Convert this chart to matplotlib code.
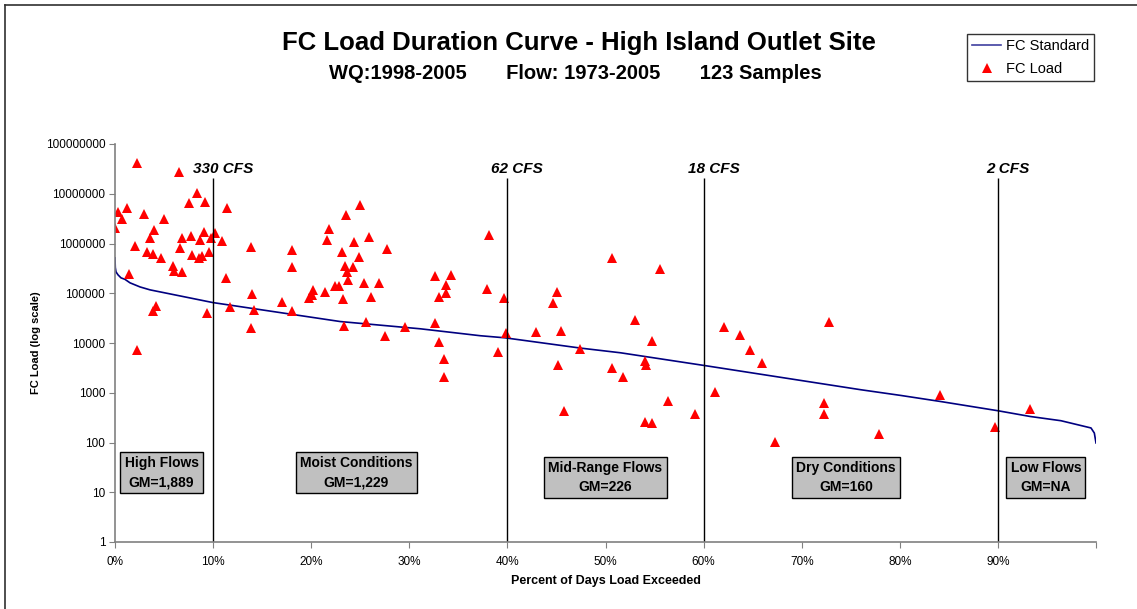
import numpy as np
import matplotlib
matplotlib.use("Agg")
import matplotlib.pyplot as plt
from matplotlib.lines import Line2D

plt.rcParams['font.family'] = ['Liberation Sans', 'DejaVu Sans']

# ---- data ----
# FC load samples: percent of days exceeded, load
load_pct = [0.0, 0.34, 0.74, 1.22, 1.46, 2.04, 2.28, 2.21, 2.96, 3.23,
            3.57, 3.85, 3.95, 3.91, 4.15, 4.72, 5.03, 5.95, 6.05, 6.56,
            6.66, 6.81, 6.81, 7.52, 7.76, 7.83, 8.40, 8.60, 8.70, 8.91,
            9.11, 9.21, 9.39, 9.56, 9.77, 10.20, 10.92, 11.36, 11.43, 11.73,
            13.91, 13.95, 13.88, 14.15, 17.04, 18.03, 18.06, 18.03, 19.80, 20.07,
            20.23, 21.40, 21.66, 21.84, 22.45, 22.86, 23.13, 23.34, 23.23, 23.40,
            23.57, 23.67, 23.74, 24.26, 24.36, 24.83, 24.97, 25.38, 25.61, 25.89,
            26.05, 26.94, 27.55, 27.72, 29.56, 32.58, 33.03, 33.74, 33.74, 34.21,
            32.58, 33.03, 33.54, 33.54, 38.16, 37.93, 39.05, 39.62, 39.90, 42.96,
            44.69, 45.07, 45.44, 45.17, 45.74, 47.38, 50.68, 50.68, 51.77, 52.99,
            54.05, 54.15, 54.77, 55.54, 56.33, 54.05, 54.77, 59.11, 61.15, 62.04,
            63.67, 64.77, 65.92, 72.79, 72.32, 72.32, 67.24, 77.83, 84.11, 89.72,
            93.27]
load_val = [2030000, 4370000, 3080000, 5120000, 245000, 895000, 42100000, 7070, 3930000, 669000,
            1280000, 618000, 1880000, 44300, 55800, 521000, 3080000, 360000, 286000, 27400000,
            816000, 1280000, 265000, 6440000, 1420000, 590000, 10500000, 507000, 1200000, 563000,
            1730000, 6750000, 39900, 688000, 1280000, 1660000, 1110000, 201000, 5120000, 52600,
            843000, 97300, 19900, 46400, 68100, 744000, 334000, 44300, 79800, 92900,
            117000, 105000, 1180000, 1960000, 143000, 141000, 669000, 22100, 77200, 355000,
            3750000, 273000, 186000, 334000, 1090000, 531000, 5960000, 160000, 27000, 1380000,
            83500, 160000, 14100, 769000, 20900, 224000, 84700, 147000, 103000, 234000,
            25800, 10700, 4880, 2120, 1470000, 121000, 6560, 80900, 15800, 16800,
            65000, 107000, 17600, 3600, 435, 7550, 514000, 3130, 2030, 29600,
            4250, 3600, 11200, 305000, 681, 258, 246, 367, 1050, 20900,
            14600, 7300, 3950, 26300, 621, 379, 102, 148, 883, 201,
            477]

# FC standard (allowable load) duration curve
std_pct = [0.0, 0.03, 0.10, 0.31, 0.61, 1.02, 1.53, 2.55, 3.57, 9.97,
           22.96, 31.12, 37.24, 39.77, 47.45, 51.53, 60.07, 76.02, 80.10, 84.11,
           90.0, 93.27, 96.43, 99.49, 99.83, 100.0]
std_val = [514000, 330000, 269000, 234000, 204000, 190000, 162000, 134000, 117000, 65000,
           27000, 19300, 14000, 12700, 7900, 6360, 3530, 1150, 883, 669,
           435, 334, 274, 196, 155, 98]

# flow zone boundaries
zone_pct = [10, 40, 60, 90]
zone_flow = ['330 CFS', '62 CFS', '18 CFS', '2 CFS']

# flow zone boxes
zone_names = ['High Flows\nGM=1,889', 'Moist Conditions\nGM=1,229',
              'Mid-Range Flows\nGM=226', 'Dry Conditions\nGM=160', 'Low Flows\nGM=NA']
box_x = [4.75, 24.6, 50.0, 74.5, 94.9]
box_y = [24.8, 24.8, 19.6, 19.6, 19.6]

y_ticks = [10 ** k for k in range(9)]
x_ticks = list(range(0, 101, 10))
x_labels = [f'{t}%' for t in x_ticks[:-1]] + ['']

# ---- figure ----
fig = plt.figure(figsize=(11.37, 6.09), dpi=100)
ax = fig.add_axes([115 / 1137, 1 - 542 / 609, 981 / 1137, 398 / 609])

std_line, = ax.plot(std_pct, std_val, color='#000080', lw=1.2, label='FC Standard')
load_pts, = ax.plot(load_pct, load_val, linestyle='none', marker='^', color='#ff0000',
                    markersize=6.5, markeredgewidth=0, label='FC Load')

ax.set_yscale('log')
ax.set_xlim(0, 100)
ax.set_ylim(1, 1e8)
ax.set_yticks(y_ticks)
ax.set_yticklabels([str(t) for t in y_ticks])
ax.minorticks_off()
ax.set_xticks(x_ticks)
ax.set_xticklabels(x_labels)
ax.tick_params(axis='both', labelsize=8.5, length=4, color='#808080', direction='out')
ax.tick_params(axis='x', pad=6)
ax.tick_params(axis='y', pad=3)

for side in ['top', 'right']:
    ax.spines[side].set_visible(False)
for side in ['left', 'bottom']:
    ax.spines[side].set_color('#808080')
    ax.spines[side].set_linewidth(1.2)

ax.set_xlabel('Percent of Days Load Exceeded', fontsize=9, fontweight='bold', labelpad=5)
ax.set_ylabel('FC Load (log scale)', fontsize=8, fontweight='bold', labelpad=3)

# zone boundaries and flow labels
ax.vlines(zone_pct, 1, 2.1e7, color='black', lw=1)
for xp, lab in zip(zone_pct, zone_flow):
    ax.text(xp + 1.0, 3.15e7, lab, ha='center', va='center', fontsize=11,
            fontweight='bold', fontstyle='italic')

for xp, yp, lab in zip(box_x, box_y, zone_names):
    ax.text(xp, yp, lab, ha='center', va='center', fontsize=10, fontweight='bold',
            linespacing=1.45,
            bbox=dict(boxstyle='square,pad=0.3', facecolor='#c0c0c0', edgecolor='black', lw=1))

# titles
fig.text(0.509, 0.930, 'FC Load Duration Curve - High Island Outlet Site',
         ha='center', va='center', fontsize=18.5, fontweight='bold')
fig.text(0.506, 0.880, 'WQ:1998-2005       Flow: 1973-2005       123 Samples',
         ha='center', va='center', fontsize=14.5, fontweight='bold')

leg = fig.legend(handles=[Line2D([], [], color='#4040a0', lw=1.2),
                          Line2D([], [], linestyle='none', marker='^', color='#ff0000',
                                 markersize=6.5, markeredgewidth=0)],
                 labels=['FC Standard', 'FC Load'],
                 loc='upper left', bbox_to_anchor=(967 / 1137, 1 - 34 / 609),
                 fontsize=10.5, frameon=True, fancybox=False, handlelength=2.0,
                 borderpad=0.35, labelspacing=0.6, handletextpad=0.3, borderaxespad=0)
leg.get_frame().set_edgecolor('black')
leg.get_frame().set_linewidth(1)

# outer chart frame (only left and top edges fall inside the picture)
fig.add_artist(Line2D([5 / 1137, 5 / 1137], [0, 1 - 5 / 609], color='#303030', lw=1.2))
fig.add_artist(Line2D([5 / 1137, 1], [1 - 5 / 609, 1 - 5 / 609], color='#303030', lw=1.2))

fig.savefig('out.png', dpi=100)
